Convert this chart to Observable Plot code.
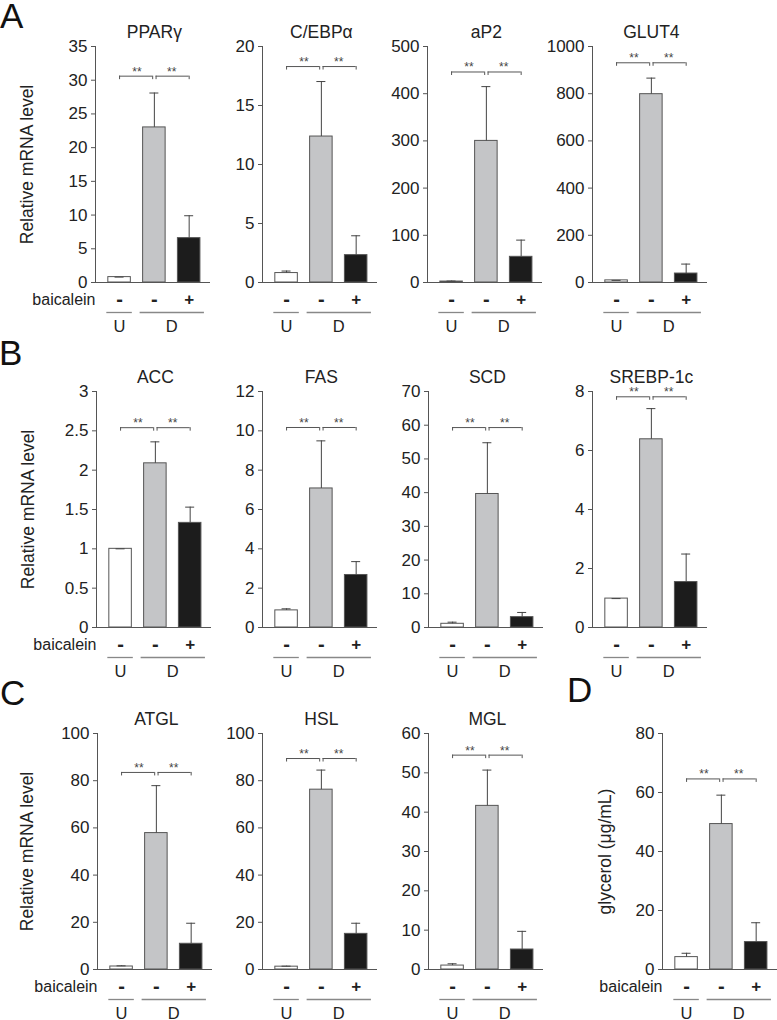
<!DOCTYPE html>
<html><head><meta charset="utf-8">
<script src="https://cdn.jsdelivr.net/npm/d3@7"></script>
<script src="https://cdn.jsdelivr.net/npm/@observablehq/plot@0.6"></script>
<style>
body{margin:0;background:#fff;width:777px;height:1020px;overflow:hidden;position:relative;font-family:'Liberation Sans',Arial,Helvetica,sans-serif;}
.panel{position:absolute;}
.panel svg{max-width:none !important;}
#letters{position:absolute;left:0;top:0;pointer-events:none;}
</style></head><body>
<script>
// ---------- data ----------
const groups = ["U", "D", "D+baicalein"];
const signs = ["-", "-", "+"];
const panelTitles = ["PPARγ", "C/EBPα", "aP2", "GLUT4", "ACC", "FAS", "SCD", "SREBP-1c", "ATGL", "HSL", "MGL", ""];
const meanU   = [0.8, 0.8, 2, 9, 1.0, 0.87, 1.1, 0.98, 1.27, 1.2, 1.0, 4.2];
const upperU  = [0.8, 0.97, 3, 9, 1.0, 0.95, 1.58, 0.98, 1.55, 1.4, 1.45, 5.5];
const meanD   = [23.0, 12.37, 300, 798, 2.087, 7.07, 39.6, 6.38, 57.8, 76.2, 41.6, 49.3];
const upperD  = [28.1, 17.03, 415, 866, 2.36, 9.49, 54.8, 7.42, 77.9, 84.5, 50.7, 59.1];
const meanDB  = [6.58, 2.32, 54.4, 38, 1.33, 2.67, 3.07, 1.54, 10.9, 15.1, 5.08, 9.3];
const upperDB = [9.9, 3.96, 89.8, 78, 1.53, 3.35, 4.46, 2.49, 19.6, 19.6, 9.7, 15.85];
const yMax      = [35, 20, 500, 1000, 3, 12, 70, 8, 100, 100, 60, 80];
const yTickStep = [5, 5, 100, 200, 0.5, 2, 10, 2, 20, 20, 10, 20];
const bracketY  = [30.6, 18.3, 446, 931, 2.54, 10.17, 59.3, 7.82, 83.5, 89.4, 54.5, 64.6];
const stars = ["**", "**"];
const yLabelMRNA = "Relative mRNA level";
const yLabelGlycerol = "glycerol (μg/mL)";
const treatmentLabel = "baicalein";
const groupLabels = ["U", "D"];
const panelLetters = ["A", "B", "C", "D"];

// ---------- layout / style ----------
const barFills = ["#ffffff", "#c4c5c7", "#1c1c1c"];
const AX = "#555", ERR = "#444", FONT = "'Liberation Sans', Arial, Helvetica, sans-serif";
const L = 115, PH = 236, MT = 50, MB = 60, MR = 6;
const PI = 0.353, PO = 0.329, AL = 0.56;
const step = L / (groups.length - PI + 2 * PO);
const bw = step * (1 - PI);

const layout = [
  {k: 0, ax: 95,    top: 45.7,  ylabel: yLabelMRNA, ldx: -68, baic: true},
  {k: 1, ax: 262,   top: 45.7},
  {k: 2, ax: 427,   top: 45.7},
  {k: 3, ax: 592,   top: 45.7},
  {k: 4, ax: 95.7,  top: 390.5, ylabel: yLabelMRNA, ldx: -68, baic: true},
  {k: 5, ax: 262,   top: 390.5},
  {k: 6, ax: 427.7, top: 390.5},
  {k: 7, ax: 591.7, top: 390.5},
  {k: 8, ax: 96.7,  top: 733,   ylabel: yLabelMRNA, ldx: -70, baic: true},
  {k: 9, ax: 261.7, top: 733},
  {k: 10, ax: 427.7, top: 733},
  {k: 11, ax: 661.7, top: 733,  ylabel: yLabelGlycerol, ldx: -57, baic: true}
];

function panel({k, ax, top, ylabel, ldx, baic}) {
  const ML = ylabel ? 85 : 50;
  const means = [meanU[k], meanD[k], meanDB[k]];
  const uppers = [upperU[k], upperD[k], upperDB[k]];
  const rows = groups.map((g, i) => ({group: g, sign: signs[i], mean: means[i], upper: uppers[i]}));
  const n = Math.round(yMax[k] / yTickStep[k]);
  const ticks = d3.range(0, n + 1).map(i => +(i * yTickStep[k]).toFixed(6));
  const by = bracketY[k];
  const marks = [
    Plot.barY(rows, {x: "group", y: "mean", fill: "group", stroke: AX, strokeWidth: 1}),
    Plot.ruleX(rows, {x: "group", y1: "mean", y2: "upper", stroke: ERR, strokeWidth: 1}),
    Plot.tickY(rows, {x: "group", y: "upper", stroke: ERR, strokeWidth: 1, insetLeft: (bw - 9) / 2, insetRight: (bw - 9) / 2}),
    // significance brackets
    Plot.ruleY([by], {x1: () => groups[0], x2: () => groups[1], insetLeft: bw / 2, insetRight: bw / 2 + 1.7, stroke: AX}),
    Plot.ruleY([by], {x1: () => groups[1], x2: () => groups[2], insetLeft: bw / 2 + 1.7, insetRight: bw / 2, stroke: AX}),
    Plot.ruleX([by], {x: () => groups[0], y1: d => d, y2: d => d, insetBottom: -3.5, stroke: AX}),
    Plot.ruleX([by], {x: () => groups[1], y1: d => d, y2: d => d, insetBottom: -3.5, dx: -1.7, stroke: AX}),
    Plot.ruleX([by], {x: () => groups[1], y1: d => d, y2: d => d, insetBottom: -3.5, dx: 1.7, stroke: AX}),
    Plot.ruleX([by], {x: () => groups[2], y1: d => d, y2: d => d, insetBottom: -3.5, stroke: AX}),
    Plot.text(stars, {x: (d, i) => groups[i], y: () => by, text: d => d, dx: step / 2, dy: -0.5, lineAnchor: "bottom", fontSize: 12, fill: ERR}),
    // axes
    Plot.axisY({ticks, tickFormat: d => String(d), tickSize: 4, tickPadding: 4, fontSize: 17, stroke: AX, fill: "#222", label: null}),
    Plot.frame({anchor: "left", stroke: AX}),
    Plot.ruleY([0], {stroke: AX}),
    // treatment annotation below
    Plot.text(rows.filter(d => d.sign === "-"), {x: "group", text: "sign", frameAnchor: "bottom", lineAnchor: "middle", dy: 17, fontSize: 20, fontWeight: "bold", fill: "#222"}),
    Plot.text(rows.filter(d => d.sign === "+"), {x: "group", text: "sign", frameAnchor: "bottom", lineAnchor: "middle", dy: 17, fontSize: 17, fontWeight: "bold", fill: "#222"}),
    Plot.ruleY([0], {x1: () => groups[0], x2: () => groups[0], dy: 30, insetLeft: -1.5, insetRight: -1.5, stroke: "#888", strokeWidth: 1.3}),
    Plot.ruleY([0], {x1: () => groups[1], x2: () => groups[2], dy: 30, insetLeft: -3, insetRight: -4, stroke: "#888", strokeWidth: 1.3}),
    Plot.text([groupLabels[0]], {x: () => groups[0], frameAnchor: "bottom", lineAnchor: "middle", dy: 44, fontSize: 16.5, fill: "#222"}),
    Plot.text([groupLabels[1]], {x: () => groups[1], dx: step / 2, frameAnchor: "bottom", lineAnchor: "middle", dy: 44, fontSize: 16.5, fill: "#222"})
  ];
  if (panelTitles[k]) marks.push(Plot.text([panelTitles[k]], {x: () => groups[1], frameAnchor: "top", lineAnchor: "middle", dy: -14, fontSize: 17.5, fill: "#222"}));
  if (ylabel) marks.push(Plot.text([ylabel], {frameAnchor: "left", textAnchor: "middle", lineAnchor: "middle", rotate: -90, dx: ldx, fontSize: 17.5, fill: "#222"}));
  if (baic) marks.push(Plot.text([treatmentLabel], {frameAnchor: "bottom-left", lineAnchor: "middle", dy: 17, dx: 0, textAnchor: "end", fontSize: 16, fill: "#222"}));

  const chart = Plot.plot({
    width: ML + L + MR, height: MT + PH + MB,
    marginLeft: ML, marginRight: MR, marginTop: MT, marginBottom: MB,
    x: {domain: groups, type: "band", paddingInner: PI, paddingOuter: PO, align: AL, round: false, axis: null},
    y: {domain: [0, yMax[k]], nice: false},
    color: {domain: groups, range: barFills},
    style: {background: "transparent", fontFamily: FONT, color: "#222", overflow: "visible", maxWidth: "none"},
    marks
  });
  const div = document.createElement("div");
  div.className = "panel";
  div.style.left = (ax - ML) + "px";
  div.style.top = (top - MT) + "px";
  div.style.width = (ML + L + MR) + "px";
  div.appendChild(chart);
  document.body.appendChild(div);
}
layout.forEach(panel);

// panel letters
const letterPos = [[0, 27.5], [-1, 365], [0, 705], [567, 702]];
const svg = d3.select("body").append("svg").attr("id", "letters").attr("width", 777).attr("height", 1020);
svg.selectAll("text").data(panelLetters).join("text")
  .attr("x", (d, i) => letterPos[i][0]).attr("y", (d, i) => letterPos[i][1])
  .attr("font-family", FONT).attr("font-size", 35).attr("fill", "#111").text(d => d);
</script>
</body></html>
